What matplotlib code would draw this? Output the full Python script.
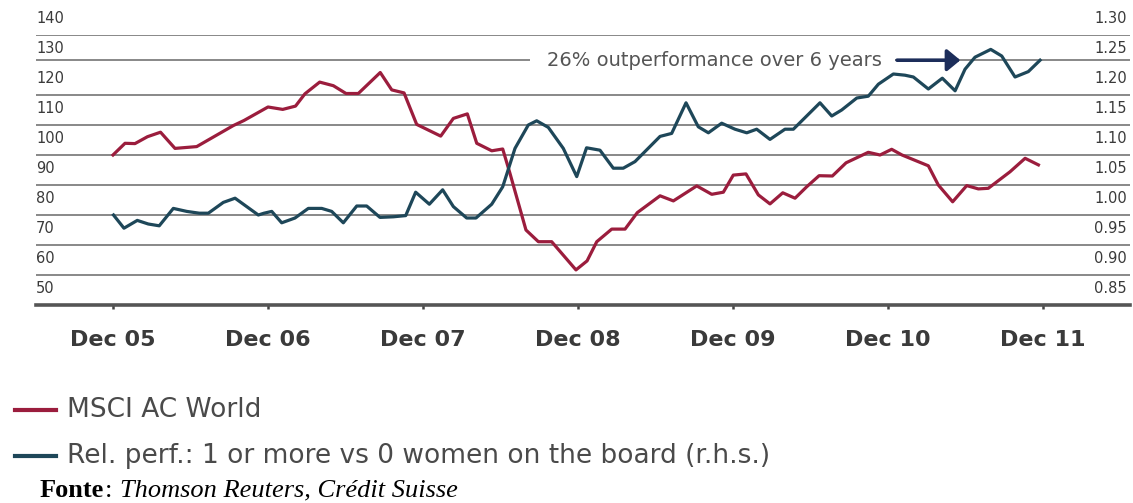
import matplotlib
matplotlib.use("Agg")
import matplotlib.pyplot as plt
from matplotlib.lines import Line2D
import matplotlib.transforms as mtransforms

# MSCI AC World (left axis), x = months since Dec 05
msci_months = [0.0, 0.93, 1.70, 2.67, 3.68, 4.80, 6.48, 9.31, 10.14, 12.0,
               13.14, 14.13, 14.86, 16.0, 17.06, 18.04, 18.99, 20.69, 21.58, 22.53,
               23.51, 25.37, 26.35, 27.43, 28.16, 29.32, 30.17, 30.73, 31.97, 32.93,
               33.96, 35.84, 36.7, 37.45, 38.61, 39.64, 40.59, 42.35, 43.38, 45.19,
               46.35, 47.25, 48.02, 49.0, 49.96, 50.86, 51.85, 52.8, 53.7, 54.66,
               55.69, 56.75, 58.47, 59.38, 60.28, 61.08, 63.12, 63.89, 65.0, 66.09,
               66.99, 67.76, 69.44, 70.61, 71.64]
msci_values = [100.0, 103.9, 103.8, 106.1, 107.6, 102.2, 102.8, 109.8, 111.5, 116.0,
               115.2, 116.3, 120.4, 124.3, 123.1, 120.5, 120.5, 127.5, 121.7, 120.7,
               110.2, 106.3, 112.2, 113.7, 103.9, 101.4, 102.0, 93.9, 75.0, 71.1,
               71.1, 61.7, 64.7, 71.1, 75.3, 75.3, 80.8, 86.4, 84.7, 89.7,
               86.9, 87.6, 93.3, 93.7, 86.7, 83.7, 87.4, 85.6, 89.4, 93.1,
               93.0, 97.4, 100.9, 100.0, 101.9, 100.0, 96.4, 90.0, 84.4, 89.8,
               88.7, 88.9, 94.4, 98.9, 96.7]

# Relative performance, 1+ vs 0 women on the board (right axis)
rel_months = [0.04, 0.85, 1.88, 2.73, 3.58, 4.67, 5.71, 6.68, 7.38, 8.54,
              9.45, 10.35, 11.25, 11.69, 12.29, 13.06, 14.09, 15.12, 16.16, 16.93,
              17.83, 18.87, 19.64, 20.67, 21.7, 22.66, 23.43, 24.49, 25.52, 26.35,
              27.38, 28.1, 29.32, 30.17, 31.12, 32.15, 32.8, 33.7, 34.86, 35.9,
              36.66, 37.7, 38.73, 39.5, 40.41, 42.35, 43.25, 44.36, 45.31, 46.09,
              47.12, 48.15, 49.06, 49.83, 50.86, 52.02, 52.67, 54.73, 55.64, 56.41,
              57.58, 58.47, 59.25, 60.41, 61.31, 61.96, 63.12, 64.2, 65.19, 65.96,
              66.73, 67.95, 68.8, 69.83, 70.86, 71.77]
rel_values = [1.000, 0.978, 0.991, 0.985, 0.982, 1.011, 1.006, 1.003, 1.003, 1.021,
              1.028, 1.014, 1.000, 1.003, 1.006, 0.987, 0.995, 1.011, 1.011, 1.006,
              0.987, 1.015, 1.015, 0.996, 0.997, 0.999, 1.038, 1.018, 1.042, 1.014,
              0.995, 0.995, 1.018, 1.047, 1.111, 1.150, 1.157, 1.146, 1.111, 1.064,
              1.112, 1.108, 1.078, 1.078, 1.089, 1.131, 1.136, 1.187, 1.147, 1.137,
              1.153, 1.143, 1.137, 1.143, 1.126, 1.143, 1.143, 1.187, 1.165, 1.175,
              1.195, 1.198, 1.218, 1.235, 1.233, 1.230, 1.210, 1.228, 1.207, 1.243,
              1.263, 1.276, 1.265, 1.230, 1.239, 1.258]

x_ticks = [0, 12, 24, 36, 48, 60, 72]
x_labels = ["Dec 05", "Dec 06", "Dec 07", "Dec 08", "Dec 09", "Dec 10", "Dec 11"]
left_ticks = [50, 60, 70, 80, 90, 100, 110, 120, 130, 140]
right_ticks = [0.85, 0.90, 0.95, 1.00, 1.05, 1.10, 1.15, 1.20, 1.25, 1.30]
grid_levels = [60, 70, 80, 90, 100, 110, 120, 140]

RED = "#9b1d3d"
BLUE = "#1e4759"
GRID = "#7f7f7f"
TXT = "#3a3a3a"

fig = plt.figure(figsize=(11.33, 5.03), dpi=100)
ax = fig.add_axes([36 / 1133, 198 / 503, 1094 / 1133, 270 / 503])
ax.set_xlim(-5.96, 78.73)
ax.set_ylim(50, 140)

for g in grid_levels:
    ax.axhline(g, color=GRID, lw=1.3, zorder=1)

for s in ["top", "left", "right"]:
    ax.spines[s].set_visible(False)
ax.spines["bottom"].set_color("#555555")
ax.spines["bottom"].set_linewidth(2.6)

ax.set_xticks(x_ticks)
ax.set_xticklabels(x_labels, fontsize=16, fontweight="bold", color=TXT)
ax.tick_params(axis="x", length=3, width=1.8, color="#444444", pad=15)
ax.set_yticks([])

ax.plot(msci_months, msci_values, color=RED, lw=2.3, zorder=3)

trans_l = mtransforms.blended_transform_factory(ax.transAxes, ax.transData)
for v in left_ticks:
    ax.text(0.0, v + 5.6, str(v), transform=trans_l, ha="left", va="center",
            fontsize=10.5, color=TXT)

ax2 = ax.twinx()
ax2.set_ylim(0.85, 1.30)
for s in ax2.spines.values():
    s.set_visible(False)
ax2.set_yticks([])

trans_r = mtransforms.blended_transform_factory(ax2.transAxes, ax2.transData)
for v in right_ticks:
    ax2.text(0.9973, v + 0.028, f"{v:.2f}", transform=trans_r, ha="right",
             va="center", fontsize=10.5, color=TXT)

# reference line at the final relative performance level
end_level = rel_values[-1]
ax2.hlines(end_level, -5.96, 32.28, color=GRID, lw=1.3, zorder=1)
ax2.hlines(end_level, 60.5, 78.73, color=GRID, lw=1.3, zorder=1)
ax2.text(33.6, end_level, "26% outperformance over 6 years", ha="left",
         va="center", fontsize=14, color="#555555", zorder=2)
ax2.annotate("", xy=(65.6, end_level), xytext=(60.7, end_level),
             arrowprops=dict(arrowstyle="-|>,head_length=0.4,head_width=0.33",
                             color="#1c2d5a", lw=2.6, mutation_scale=20,
                             shrinkA=0, shrinkB=0), zorder=4)

ax2.plot(rel_months, rel_values, color=BLUE, lw=2.3, zorder=3)

# legend
fig.add_artist(Line2D([15 / 1133, 56 / 1133], [0.1849, 0.1849], color=RED, lw=3))
fig.text(67 / 1133, 0.1849, "MSCI AC World", fontsize=19, color="#4a4a4a",
         ha="left", va="center")
fig.add_artist(Line2D([15 / 1133, 56 / 1133], [0.0934, 0.0934], color=BLUE, lw=3))
fig.text(67 / 1133, 0.0934, "Rel. perf.: 1 or more vs 0 women on the board (r.h.s.)",
         fontsize=19, color="#4a4a4a", ha="left", va="center")

# source line, pieces placed one after another
renderer = fig.canvas.get_renderer()
inv = fig.transFigure.inverted()
x_pos = 40 / 1133
pieces = [("Fonte", "bold", "normal"), (":", "normal", "normal"),
          ("Thomson Reuters, Crédit Suisse", "normal", "italic")]
gaps = [0, 6, 0]
for (txt, weight, style), gap in zip(pieces, gaps):
    t = fig.text(x_pos, 0.024, txt, fontsize=19, fontweight=weight, style=style,
                 family="Liberation Serif", color="black", ha="left", va="center")
    bb = t.get_window_extent(renderer=renderer)
    x_pos = inv.transform((bb.x1 + gap + 1, 0))[0]

fig.savefig("out.png", dpi=100)
